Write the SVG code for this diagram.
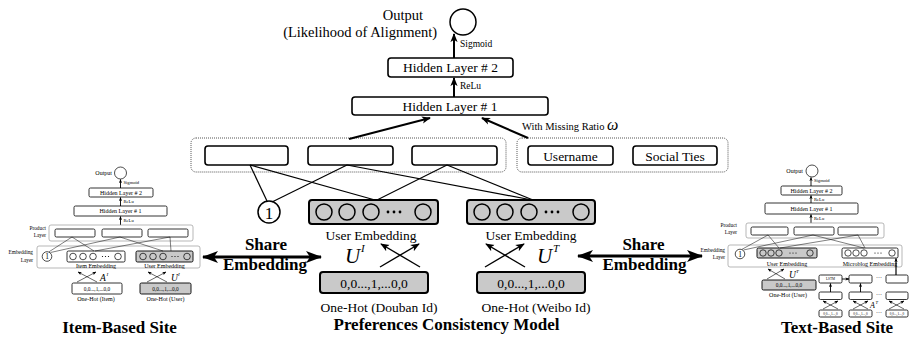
<svg xmlns="http://www.w3.org/2000/svg" width="912" height="338" viewBox="0 0 912 338">
<style>
text{font-family:"Liberation Serif","Times New Roman",serif;fill:#000;text-anchor:middle}
.end{text-anchor:end}
.st{text-anchor:start}
.f135{font-size:13.5px}
.f14{font-size:14.5px}
.f10{font-size:10.5px}
.f95{font-size:9.5px}
.b17{font-size:17px;font-weight:bold}
.m6{font-size:6px}
.m5{font-size:5.3px}
.m45{font-size:4.6px}
.m35{font-size:3.4px}
.box{fill:#fff;stroke:#000;stroke-width:1.6}
.gbox{fill:#c9c9c9;stroke:#000;stroke-width:2}
.circ{fill:none;stroke:#000;stroke-width:1.5}
.dotted{fill:none;stroke:#555;stroke-width:1;stroke-dasharray:1 1}
.ln{stroke:#000;stroke-width:1.2;fill:none}
.arr{stroke:#000;stroke-width:2;fill:none;marker-end:url(#ah)}
.xarr{stroke:#000;stroke-width:1.4;fill:none;marker-end:url(#ah)}
.share{stroke:#000;stroke-width:3;fill:none;marker-start:url(#ahb);marker-end:url(#ahb)}
.mbox{fill:#fff;stroke:#000;stroke-width:0.8}
.mg{fill:#c9c9c9;stroke:#000;stroke-width:0.9}
.mc{fill:none;stroke:#000;stroke-width:0.7}
.grp{fill:none;stroke:#999;stroke-width:0.7}
.ml{stroke:#000;stroke-width:0.5;fill:none}
.marr{stroke:#000;stroke-width:0.9;fill:none;marker-end:url(#ahs)}
.mx{stroke:#000;stroke-width:0.6;fill:none;marker-end:url(#ahs)}
</style>
<defs>
<marker id="ah" viewBox="0 0 10 10" refX="9" refY="5" markerWidth="9" markerHeight="9" markerUnits="userSpaceOnUse" orient="auto"><path d="M0,1 L10,5 L0,9 L2.5,5 z" fill="#000"/></marker>
<marker id="ahs" viewBox="0 0 10 10" refX="9" refY="5" markerWidth="4" markerHeight="4" markerUnits="userSpaceOnUse" orient="auto"><path d="M0,1 L10,5 L0,9 L2.5,5 z" fill="#000"/></marker>
<marker id="ahb" viewBox="0 0 16 12" refX="15" refY="6" markerWidth="17" markerHeight="12" markerUnits="userSpaceOnUse" orient="auto-start-reverse"><path d="M0,0 L16,6 L0,12 L4,6 z" fill="#000"/></marker>
</defs>

<!-- ===== Preferences consistency model (centre) ===== -->
<g id="output">
  <circle class="circ" cx="463" cy="22" r="13"/>
  <text class="f14 end" x="423" y="20">Output</text>
  <text class="f14 end" x="437" y="37">(Likelihood of Alignment)</text>
</g>
<g id="hidden2">
  <rect class="box" x="388" y="58" width="125" height="19" rx="3"/>
  <text class="f135" x="450.5" y="72">Hidden Layer # 2</text>
</g>
<g id="hidden1">
  <rect class="box" x="352" y="97" width="196" height="18" rx="3"/>
  <text class="f135" x="450" y="111">Hidden Layer # 1</text>
</g>
<g id="product-layer">
  <rect class="dotted" x="191" y="138" width="315" height="34" rx="5"/>
  <rect class="box" x="205" y="146" width="83" height="19" rx="3"/>
  <rect class="box" x="308" y="146" width="85" height="19" rx="3"/>
  <rect class="box" x="412" y="146" width="85" height="19" rx="3"/>
</g>
<g id="side-features">
  <rect class="dotted" x="517" y="138" width="211" height="34" rx="5"/>
  <rect class="box" x="528" y="146" width="85" height="19" rx="3"/>
  <text class="f135" x="570.5" y="160.5">Username</text>
  <rect class="box" x="633" y="146" width="84" height="19" rx="3"/>
  <text class="f135" x="675" y="160.5">Social Ties</text>
</g>
<g id="bias-one">
  <circle class="circ" cx="269" cy="212" r="11"/>
  <text x="269" y="218.5" style="font-size:17px">1</text>
</g>
<g id="user-emb-douban">
  <rect class="gbox" x="309" y="200" width="129" height="24" rx="3"/>
  <g class="circ"><circle cx="324" cy="212" r="8"/><circle cx="347" cy="212" r="8"/><circle cx="371" cy="212" r="8"/><circle cx="423" cy="212" r="8"/></g>
  <g fill="#000"><circle cx="388" cy="212" r="1.4"/><circle cx="394" cy="212" r="1.4"/><circle cx="400" cy="212" r="1.4"/></g>
  <text class="f135" x="371" y="240">User Embedding</text>
  <text x="345" y="263" style="font-size:21px;font-style:italic;text-anchor:start">U</text>
  <text x="361" y="252" style="font-size:11px;font-style:italic;text-anchor:start">I</text>
</g>
<g id="user-emb-weibo">
  <rect class="gbox" x="467" y="200" width="128" height="24" rx="3"/>
  <g class="circ"><circle cx="482" cy="212" r="8"/><circle cx="505" cy="212" r="8"/><circle cx="529" cy="212" r="8"/><circle cx="581" cy="212" r="8"/></g>
  <g fill="#000"><circle cx="546" cy="212" r="1.4"/><circle cx="552" cy="212" r="1.4"/><circle cx="558" cy="212" r="1.4"/></g>
  <text class="f135" x="531" y="240">User Embedding</text>
  <text x="537" y="263" style="font-size:21px;font-style:italic;text-anchor:start">U</text>
  <text x="553" y="252" style="font-size:11px;font-style:italic;text-anchor:start">T</text>
</g>
<g id="onehot-douban">
  <rect class="gbox" x="320" y="272" width="108" height="21" rx="3"/>
  <text class="f135" x="374" y="287.5">0,0...,1,...0,0</text>
  <text class="f135" x="379" y="312">One-Hot (Douban Id)</text>
</g>
<g id="onehot-weibo">
  <rect class="gbox" x="477" y="272" width="108" height="21" rx="3"/>
  <text class="f135" x="531" y="287.5">0,0...,1,...0,0</text>
  <text class="f135" x="536" y="312">One-Hot (Weibo Id)</text>
</g>
<text class="b17" x="446.5" y="330">Preferences Consistency Model</text>

<g id="connectors">
  <line class="arr" x1="454" y1="58" x2="454" y2="34"/>
  <text class="f95 st" x="460" y="47">Sigmoid</text>
  <line class="arr" x1="454" y1="97" x2="454" y2="78"/>
  <text class="f95 st" x="460" y="89">ReLu</text>
  <line class="arr" x1="349" y1="139" x2="430" y2="118"/>
  <line class="arr" x1="528" y1="138" x2="482" y2="118"/>
  <text class="f10 st" x="522" y="130">With Missing Ratio <tspan style="font-size:16px;font-style:italic">ω</tspan></text>
  <!-- pairwise products -->
  <line class="ln" x1="250" y1="165" x2="267" y2="201"/>
  <line class="ln" x1="250" y1="165" x2="375" y2="200"/>
  <line class="ln" x1="347" y1="165" x2="272" y2="202"/>
  <line class="ln" x1="347" y1="165" x2="532" y2="200"/>
  <line class="ln" x1="447" y1="165" x2="377" y2="200"/>
  <line class="ln" x1="447" y1="165" x2="533" y2="200"/>
  <!-- embedding lookups -->
  <line class="xarr" x1="380" y1="267" x2="419" y2="244"/>
  <line class="xarr" x1="420" y1="267" x2="381" y2="244"/>
  <line class="xarr" x1="485" y1="267" x2="524" y2="244"/>
  <line class="xarr" x1="525" y1="267" x2="486" y2="244"/>
  <!-- shared embeddings -->
  <line class="share" x1="203" y1="257" x2="321" y2="257"/>
  <line class="share" x1="578" y1="256" x2="702" y2="256"/>
</g>
<g id="share-left"><text class="b17" x="266" y="250">Share</text><text class="b17" x="265" y="270">Embedding</text></g>
<g id="share-right"><text class="b17" x="643.5" y="250">Share</text><text class="b17" x="644.5" y="270">Embedding</text></g>

<!-- ===== Item-based site (left) ===== -->
<g id="item-site">
  <circle class="mc" cx="120.5" cy="173" r="6"/>
  <text class="m6 end" x="112" y="175">Output</text>
  <line class="marr" x1="120.5" y1="188" x2="120.5" y2="179.5"/>
  <text class="m45 st" x="123.5" y="184">Sigmoid</text>
  <rect class="mbox" x="89" y="188" width="64" height="9" rx="1.5"/>
  <text class="m6" x="121" y="194.8">Hidden Layer # 2</text>
  <line class="marr" x1="120.5" y1="206" x2="120.5" y2="197.5"/>
  <text class="m45 st" x="123.5" y="203">ReLu</text>
  <rect class="mbox" x="74" y="206" width="93" height="10" rx="1.5"/>
  <text class="m6" x="120.5" y="213.2">Hidden Layer # 1</text>
  <line class="marr" x1="120.5" y1="225" x2="120.5" y2="216.5"/>
  <text class="m45 st" x="123.5" y="222">ReLu</text>
  <rect class="grp" x="49" y="225" width="144" height="16" rx="2"/>
  <rect class="mbox" x="55" y="229" width="40" height="8" rx="1.5"/>
  <rect class="mbox" x="102" y="229" width="40" height="8" rx="1.5"/>
  <rect class="mbox" x="148" y="229" width="40" height="8" rx="1.5"/>
  <text class="m5 end" x="46" y="230">Product</text>
  <text class="m5 end" x="46" y="237">Layer</text>
  <rect class="grp" x="37" y="246" width="163" height="22" rx="2"/>
  <text class="m5 end" x="33" y="254">Embedding</text>
  <text class="m5 end" x="33" y="262">Layer</text>
  <circle class="mc" cx="47" cy="256.5" r="4.8"/>
  <text x="47" y="259.2" style="font-size:7.5px">1</text>
  <rect class="mbox" x="67" y="251" width="58" height="11" rx="1.5"/>
  <g class="mc"><circle cx="73" cy="256.5" r="3.3"/><circle cx="83" cy="256.5" r="3.3"/><circle cx="93" cy="256.5" r="3.3"/><circle cx="118" cy="256.5" r="3.3"/></g>
  <g fill="#000"><circle cx="102.5" cy="256.5" r="0.6"/><circle cx="105.5" cy="256.5" r="0.6"/><circle cx="108.5" cy="256.5" r="0.6"/></g>
  <rect class="mg" x="136" y="251" width="57" height="11" rx="1.5"/>
  <g class="mc"><circle cx="143" cy="256.5" r="3.3"/><circle cx="153" cy="256.5" r="3.3"/><circle cx="163" cy="256.5" r="3.3"/><circle cx="187" cy="256.5" r="3.3"/></g>
  <g fill="#000"><circle cx="172" cy="256.5" r="0.6"/><circle cx="175" cy="256.5" r="0.6"/><circle cx="178" cy="256.5" r="0.6"/></g>
  <line class="ml" x1="72" y1="237" x2="49" y2="251.8"/>
  <line class="ml" x1="72" y1="237" x2="94" y2="251"/>
  <line class="ml" x1="120" y1="237" x2="50.5" y2="252.5"/>
  <line class="ml" x1="120" y1="237" x2="163" y2="251"/>
  <line class="ml" x1="170" y1="237" x2="95" y2="251"/>
  <line class="ml" x1="170" y1="237" x2="171" y2="251"/>
  <text class="m6" x="96" y="267.5">Item Embedding</text>
  <text class="m6" x="164.5" y="267.5">User Embedding</text>
  <line class="mx" x1="77" y1="282" x2="96" y2="272"/>
  <line class="mx" x1="97" y1="282" x2="78" y2="272"/>
  <text x="100" y="281" style="font-size:9.5px;font-style:italic;text-anchor:start">A</text>
  <text x="106.5" y="276" style="font-size:5px;font-style:italic;text-anchor:start">I</text>
  <line class="mx" x1="147" y1="282" x2="166" y2="272"/>
  <line class="mx" x1="167" y1="282" x2="148" y2="272"/>
  <text x="171" y="281" style="font-size:9.5px;font-style:italic;text-anchor:start">U</text>
  <text x="178" y="276" style="font-size:5px;font-style:italic;text-anchor:start">I</text>
  <rect class="mbox" x="72" y="283" width="50" height="11" rx="1.5"/>
  <text class="m5" x="97" y="290.5">0,0...,1,...0,0</text>
  <rect class="mg" x="140" y="283" width="51" height="11" rx="1.5"/>
  <text class="m5" x="165.5" y="290.5">0,0...,1,...0,0</text>
  <text class="m6" x="96" y="301">One-Hot (Item)</text>
  <text class="m6" x="165.5" y="301">One-Hot (User)</text>
  <text class="b17" x="119.5" y="333">Item-Based Site</text>
</g>

<!-- ===== Text-based site (right) ===== -->
<g id="text-site">
  <circle class="mc" cx="812" cy="171" r="6"/>
  <text class="m6 end" x="803" y="173">Output</text>
  <line class="marr" x1="811" y1="186" x2="811" y2="177.5"/>
  <text class="m45 st" x="814" y="182">Sigmoid</text>
  <rect class="mbox" x="781" y="186" width="61" height="9" rx="1.5"/>
  <text class="m6" x="811.5" y="192.8">Hidden Layer # 2</text>
  <line class="marr" x1="811" y1="203" x2="811" y2="195.5"/>
  <text class="m45 st" x="814" y="201">ReLu</text>
  <rect class="mbox" x="765" y="203" width="93" height="11" rx="1.5"/>
  <text class="m6" x="811.5" y="210.8">Hidden Layer # 1</text>
  <line class="marr" x1="811" y1="223" x2="811" y2="214.5"/>
  <text class="m45 st" x="814" y="220">ReLu</text>
  <rect class="grp" x="746" y="223" width="138" height="15" rx="2"/>
  <rect class="mbox" x="751" y="227" width="37" height="8" rx="1.5"/>
  <rect class="mbox" x="794" y="227" width="40" height="8" rx="1.5"/>
  <rect class="mbox" x="838" y="227" width="40" height="8" rx="1.5"/>
  <text class="m5 end" x="737" y="227">Product</text>
  <text class="m5 end" x="737" y="234">Layer</text>
  <rect class="grp" x="728" y="245" width="174" height="22" rx="2"/>
  <text class="m5 end" x="725" y="252">Embedding</text>
  <text class="m5 end" x="725" y="259">Layer</text>
  <circle class="mc" cx="740" cy="254" r="4.8"/>
  <text x="740" y="256.7" style="font-size:7.5px">1</text>
  <rect class="mg" x="757" y="248" width="60" height="10" rx="1.5"/>
  <g class="mc"><circle cx="763" cy="253" r="3.2"/><circle cx="771" cy="253" r="3.2"/><circle cx="779" cy="253" r="3.2"/><circle cx="810" cy="253" r="3.2"/></g>
  <g fill="#000"><circle cx="790" cy="253" r="0.6"/><circle cx="793" cy="253" r="0.6"/><circle cx="796" cy="253" r="0.6"/></g>
  <rect class="mbox" x="842" y="248" width="56" height="10" rx="1.5"/>
  <g class="mc"><circle cx="848" cy="253" r="3.2"/><circle cx="856" cy="253" r="3.2"/><circle cx="864" cy="253" r="3.2"/><circle cx="892" cy="253" r="3.2"/></g>
  <g fill="#000"><circle cx="875" cy="253" r="0.6"/><circle cx="878" cy="253" r="0.6"/><circle cx="881" cy="253" r="0.6"/></g>
  <line class="ml" x1="768" y1="235" x2="742" y2="249.3"/>
  <line class="ml" x1="768" y1="235" x2="779" y2="248"/>
  <line class="ml" x1="813" y1="235" x2="743.5" y2="250"/>
  <line class="ml" x1="813" y1="235" x2="864" y2="248"/>
  <line class="ml" x1="858" y1="235" x2="780" y2="248"/>
  <line class="ml" x1="858" y1="235" x2="865" y2="248"/>
  <text class="m6" x="787" y="265.5">User Embedding</text>
  <text class="m6" x="870" y="265.5">Microblog Embedding</text>
  <line class="mx" x1="767" y1="279" x2="784" y2="269"/>
  <line class="mx" x1="785" y1="279" x2="768" y2="269"/>
  <text x="789" y="277.5" style="font-size:9.5px;font-style:italic;text-anchor:start">U</text>
  <text x="796" y="272.5" style="font-size:5px;font-style:italic;text-anchor:start">T</text>
  <rect class="mg" x="762" y="280" width="54" height="10" rx="1.5"/>
  <text class="m5" x="789" y="287">0,0...,1,...0,0</text>
  <text class="m6" x="788" y="297">One-Hot (User)</text>
  <!-- LSTM over microblog words -->
  <rect class="mbox" x="819" y="275" width="23" height="8" rx="1.5"/>
  <text class="m35" x="830.5" y="280.3">LSTM</text>
  <rect class="mbox" x="849" y="275" width="23" height="8" rx="1.5"/>
  <rect class="mbox" x="886" y="275" width="22" height="8" rx="1.5"/>
  <text class="m6" x="879" y="280">···</text>
  <line class="marr" x1="842" y1="279" x2="849" y2="279"/>
  <line x1="896" y1="275" x2="896" y2="258.5" stroke="#000" stroke-width="1.2" marker-end="url(#ahs)"/>
  <rect class="mbox" x="819" y="292" width="23" height="7.5" rx="1.5"/>
  <rect class="mbox" x="849" y="292" width="23" height="7.5" rx="1.5"/>
  <rect class="mbox" x="886" y="292" width="22" height="7.5" rx="1.5"/>
  <text class="m6" x="879" y="297">···</text>
  <line class="marr" x1="830.5" y1="292" x2="830.5" y2="283.5"/>
  <line class="marr" x1="860.5" y1="292" x2="860.5" y2="283.5"/>
  <line class="mx" x1="823" y1="309" x2="838" y2="301"/>
  <line class="mx" x1="838" y1="309" x2="823" y2="301"/>
  <line class="mx" x1="853" y1="309" x2="868" y2="301"/>
  <line class="mx" x1="868" y1="309" x2="853" y2="301"/>
  <line class="mx" x1="889" y1="309" x2="904" y2="301"/>
  <line class="mx" x1="904" y1="309" x2="889" y2="301"/>
  <text x="870" y="308" style="font-size:8px;font-style:italic;text-anchor:start">A</text>
  <text x="875.5" y="304" style="font-size:4.5px;font-style:italic;text-anchor:start">T</text>
  <rect class="mbox" x="819" y="310" width="23" height="7" rx="1.5"/>
  <text class="m35" x="830.5" y="315">0,0...,1...,0</text>
  <rect class="mbox" x="849" y="310" width="23" height="7" rx="1.5"/>
  <text class="m35" x="860.5" y="315">0,0...,1...,0</text>
  <rect class="mbox" x="886" y="310" width="22" height="7" rx="1.5"/>
  <text class="m35" x="897" y="315">0,0...,1...,0</text>
  <text class="m6" x="879" y="315">···</text>
  <text class="b17" x="837" y="333">Text-Based Site</text>
</g>
</svg>
